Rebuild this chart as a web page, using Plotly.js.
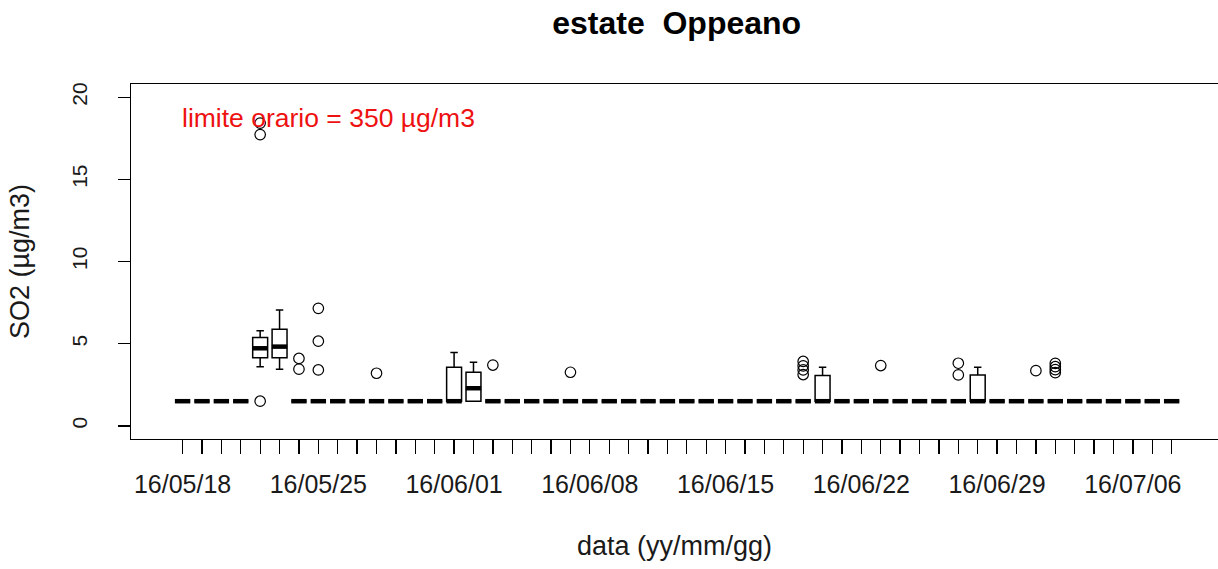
<!DOCTYPE html>
<html>
<head>
<meta charset="utf-8">
<script src="https://cdn.plot.ly/plotly-3.0.1.min.js"></script>
<style>
  html, body { margin: 0; padding: 0; background: #ffffff; }
  #chart { width: 1218px; height: 569px; }
</style>
</head>
<body>
<div id="chart"></div>
<script>
// ---- data ----
const days = [
  "16/05/18","16/05/19","16/05/20","16/05/21","16/05/22","16/05/23","16/05/24",
  "16/05/25","16/05/26","16/05/27","16/05/28","16/05/29","16/05/30","16/05/31",
  "16/06/01","16/06/02","16/06/03","16/06/04","16/06/05","16/06/06","16/06/07",
  "16/06/08","16/06/09","16/06/10","16/06/11","16/06/12","16/06/13","16/06/14",
  "16/06/15","16/06/16","16/06/17","16/06/18","16/06/19","16/06/20","16/06/21",
  "16/06/22","16/06/23","16/06/24","16/06/25","16/06/26","16/06/27","16/06/28",
  "16/06/29","16/06/30","16/07/01","16/07/02","16/07/03","16/07/04","16/07/05",
  "16/07/06","16/07/07","16/07/08"
];
const tickLabels = ["16/05/18","16/05/25","16/06/01","16/06/08","16/06/15","16/06/22","16/06/29","16/07/06"];

const boxQ1 = [
  1.5,1.5,1.5,1.5,4.15,4.15,1.5,
  1.5,1.5,1.5,1.5,1.5,1.5,1.5,
  1.5,1.5,1.5,1.5,1.5,1.5,1.5,
  1.5,1.5,1.5,1.5,1.5,1.5,1.5,
  1.5,1.5,1.5,1.5,1.5,1.5,1.5,
  1.5,1.5,1.5,1.5,1.5,1.5,1.5,
  1.5,1.5,1.5,1.5,1.5,1.5,1.5,
  1.5,1.5,1.5
];
const boxMedian = [
  1.5,1.5,1.5,1.5,4.72,4.82,1.5,
  1.5,1.5,1.5,1.5,1.5,1.5,1.5,
  1.5,2.29,1.5,1.5,1.5,1.5,1.5,
  1.5,1.5,1.5,1.5,1.5,1.5,1.5,
  1.5,1.5,1.5,1.5,1.5,1.5,1.5,
  1.5,1.5,1.5,1.5,1.5,1.5,1.5,
  1.5,1.5,1.5,1.5,1.5,1.5,1.5,
  1.5,1.5,1.5
];
const boxQ3 = [
  1.5,1.5,1.5,1.5,5.37,5.88,1.5,
  1.5,1.5,1.5,1.5,1.5,1.5,1.5,
  3.57,3.26,1.5,1.5,1.5,1.5,1.5,
  1.5,1.5,1.5,1.5,1.5,1.5,1.5,
  1.5,1.5,1.5,1.5,1.5,3.06,1.5,
  1.5,1.5,1.5,1.5,1.5,1.5,3.10,
  1.5,1.5,1.5,1.5,1.5,1.5,1.5,
  1.5,1.5,1.5
];
const whiskerLow = [
  1.5,1.5,1.5,1.5,3.60,3.45,1.5,
  1.5,1.5,1.5,1.5,1.5,1.5,1.5,
  1.5,1.5,1.5,1.5,1.5,1.5,1.5,
  1.5,1.5,1.5,1.5,1.5,1.5,1.5,
  1.5,1.5,1.5,1.5,1.5,1.5,1.5,
  1.5,1.5,1.5,1.5,1.5,1.5,1.5,
  1.5,1.5,1.5,1.5,1.5,1.5,1.5,
  1.5,1.5,1.5
];
const whiskerHigh = [
  1.5,1.5,1.5,1.5,5.79,7.05,1.5,
  1.5,1.5,1.5,1.5,1.5,1.5,1.5,
  4.46,3.87,1.5,1.5,1.5,1.5,1.5,
  1.5,1.5,1.5,1.5,1.5,1.5,1.5,
  1.5,1.5,1.5,1.5,1.5,3.57,1.5,
  1.5,1.5,1.5,1.5,1.5,1.5,3.57,
  1.5,1.5,1.5,1.5,1.5,1.5,1.5,
  1.5,1.5,1.5
];

const outlierDay = [
  "16/05/22","16/05/22","16/05/22",
  "16/05/24","16/05/24",
  "16/05/25","16/05/25","16/05/25",
  "16/05/28","16/06/03","16/06/07",
  "16/06/19","16/06/19","16/06/19","16/06/19",
  "16/06/23",
  "16/06/27","16/06/27",
  "16/07/01",
  "16/07/02","16/07/02","16/07/02","16/07/02"
];
const outlierValue = [
  1.5, 17.72, 18.42,
  4.10, 3.45,
  7.15, 5.15, 3.40,
  3.20, 3.70, 3.26,
  3.92, 3.65, 3.40, 3.12,
  3.67,
  3.81, 3.10,
  3.36,
  3.80, 3.60, 3.42, 3.24
];

const yTicks = [0, 5, 10, 15, 20];
const chartTitle = "estate\u00a0\u00a0Oppeano";
const xTitle = "data (yy/mm/gg)";
const yTitle = "SO2 (\u00b5g/m3)";
const noteText = "limite orario = 350 \u00b5g/m3";

// ---- chart ----
const FONT = "Liberation Sans, Arial, sans-serif";
const TXT = "#1a1a1a";

const boxTrace = {
  type: "box",
  x: days,
  q1: boxQ1,
  median: boxMedian,
  q3: boxQ3,
  lowerfence: whiskerLow,
  upperfence: whiskerHigh,
  width: 0.77,
  whiskerwidth: 0.5,
  boxpoints: false,
  line: { color: "#000000", width: 1.5 },
  fillcolor: "rgba(0,0,0,0)",
  hoverinfo: "skip",
  showlegend: false
};

const medianTrace = {
  type: "scatter",
  mode: "markers",
  x: days,
  y: boxMedian,
  marker: { symbol: "line-ew", size: 11, color: "#000000", line: { color: "#000000", width: 4.5 } },
  hoverinfo: "skip",
  showlegend: false
};

const outlierTrace = {
  type: "scatter",
  mode: "markers",
  x: outlierDay,
  y: outlierValue,
  marker: { symbol: "circle-open", size: 10.5, color: "#000000", line: { color: "#000000", width: 1.2 } },
  hoverinfo: "skip",
  showlegend: false
};

const layout = {
  width: 1218,
  height: 569,
  margin: { l: 131, r: 0, t: 84, b: 130, pad: 0 },
  paper_bgcolor: "#ffffff",
  plot_bgcolor: "#ffffff",
  font: { family: FONT, color: TXT },
  showlegend: false,
  title: {
    text: chartTitle,
    font: { family: FONT, size: 32, color: "#000000", weight: 700 },
    x: 0.502, xref: "paper", xanchor: "center",
    y: 1 - 23 / 569, yref: "container", yanchor: "middle"
  },
  xaxis: {
    type: "category",
    categoryorder: "array",
    categoryarray: days,
    range: [-2.66, 53.39],
    tickmode: "array",
    tickvals: days,
    ticktext: days.map(d => tickLabels.includes(d) ? d : ""),
    ticks: "outside",
    ticklen: 14,
    tickwidth: 1.3,
    tickcolor: "#000000",
    showline: true,
    mirror: true,
    linecolor: "#000000",
    linewidth: 1.3,
    showgrid: false,
    zeroline: false,
    tickangle: 0,
    tickfont: { family: FONT, size: 25, color: TXT },
    ticklabelstandoff: 9,
    title: { text: xTitle, font: { family: FONT, size: 27, color: TXT }, standoff: 38 }
  },
  yaxis: {
    range: [-0.8, 20.8],
    tickmode: "array",
    tickvals: yTicks,
    ticktext: yTicks.map(String),
    ticks: "outside",
    ticklen: 12,
    tickwidth: 1.3,
    tickcolor: "#000000",
    showline: true,
    mirror: false,
    linecolor: "#000000",
    linewidth: 1.3,
    showgrid: false,
    zeroline: false,
    tickangle: -90,
    tickfont: { family: FONT, size: 21, color: TXT },
    ticklabelstandoff: 22,
    title: { text: yTitle, font: { family: FONT, size: 27, color: TXT }, standoff: 30 }
  },
  annotations: [{
    text: noteText,
    xref: "paper", x: 0.045, xanchor: "left",
    yref: "y", y: 18.75, yanchor: "middle",
    showarrow: false,
    font: { family: FONT, size: 26.5, color: "#ee1111" }
  }]
};

Plotly.newPlot("chart", [boxTrace, medianTrace, outlierTrace], layout, { staticPlot: true, displayModeBar: false });
</script>
</body>
</html>
